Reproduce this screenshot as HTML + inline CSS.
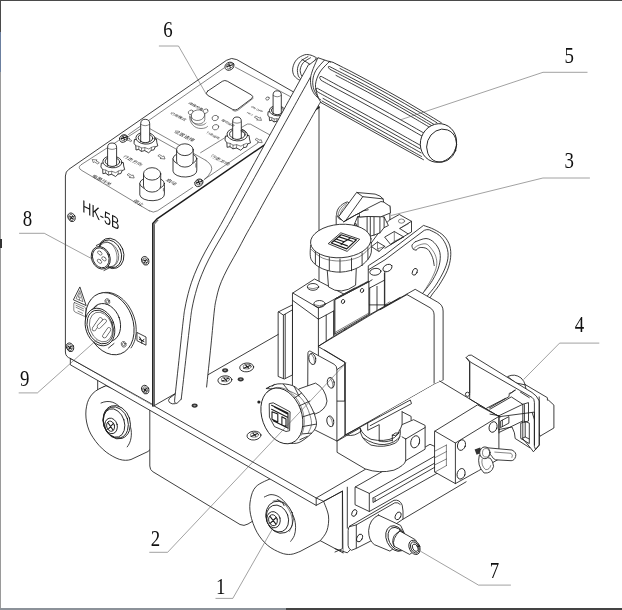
<!DOCTYPE html>
<html><head><meta charset="utf-8"><title>HK-5B</title>
<style>
html,body{margin:0;padding:0;background:#fff;overflow:hidden}
svg{display:block}
.l{fill:none;stroke:#1c1c1c;stroke-width:.85;stroke-linecap:round;stroke-linejoin:round}
.w{fill:#fff;stroke:#1c1c1c;stroke-width:.85;stroke-linecap:round;stroke-linejoin:round}
.f{fill:#fff;stroke:none}
.t{fill:none;stroke:#333;stroke-width:.6;stroke-linecap:round;stroke-linejoin:round}
.tw{fill:#fff;stroke:#333;stroke-width:.6;stroke-linecap:round;stroke-linejoin:round}
.ld{fill:none;stroke:#555;stroke-width:.55}
.num{font-family:"Liberation Serif",serif;font-size:23px;fill:#111}
text{filter:grayscale(1)}
.cj{font-family:"Liberation Sans","Noto Sans CJK SC",sans-serif;fill:#222}
</style></head><body>
<svg width="622" height="610" viewBox="0 0 622 610">
<rect width="622" height="610" fill="#fff"/>
<!-- 00_frame -->
<g shape-rendering="crispEdges">
<rect x="0" y="0" width="622" height="1.4" fill="#4a4a4a"/>
<rect x="0" y="0" width="1.2" height="608" fill="#9a9a9a"/>
<rect x="0" y="0" width="1.2" height="32" fill="#4a4a4a"/>
<rect x="0" y="32" width="1" height="40" fill="#6b7f9f"/>
<rect x="0" y="239" width="1.6" height="9" fill="#333"/>
<rect x="0" y="607.7" width="286" height="2.3" fill="#8c9299"/>
<rect x="286" y="607.7" width="336" height="2.3" fill="#444"/>
</g>
<!-- 20_base -->
<g class="l">
<!-- rear-left wheel support block + wheel -->
<path class="w" d="M97.7 380V390L105.6 385.9"/>
<g id="wheelL">
<path class="w" d="M105.6 385.9C100 388 96 390.5 93.1 393.1C89.5 397 87.3 401.5 86.6 406.2C85.5 411 85.6 417 86.6 422C87.6 427.5 89.8 433 93.1 437.7C96.5 443 101 448 106.2 452.1C110.5 455.3 115 457.8 119.3 459.3C123.5 460.6 127.5 460.6 131 459.5L148 451.5L160 440V409Z"/>
<path d="M101 403C105 401.2 109 401 112.8 402.3C118.5 404.5 123 409.5 125.9 415.4C128.5 420 130.4 425 131.1 429.8C131.6 433.5 131.4 437 130.5 440.3C129.8 442.8 128.7 445 127.2 446.9"/>
<ellipse class="w" cx="116.7" cy="422.2" rx="13.4" ry="17" transform="rotate(-18 116.7 422.2)"/>
<ellipse cx="115.8" cy="422.5" rx="12.2" ry="16" transform="rotate(-18 115.8 422.5)"/>
<ellipse cx="114.1" cy="423" rx="10.3" ry="14.6" transform="rotate(-18 114.1 423)"/>
<ellipse cx="111.1" cy="425.9" rx="6.2" ry="7.9" transform="rotate(-15 111.1 425.9)"/>
<ellipse cx="110.6" cy="426.2" rx="3.9" ry="5.2" transform="rotate(-15 110.6 426.2)"/>
<path d="M108 422.8L113 430M113.4 423.3L108 429.5" style="stroke-width:1.1"/>
</g>
<!-- lower body -->
<path class="f" d="M149.8 409.3V466Q149.8 470 153 471.8L240 524.5Q244 526.5 248 524L262 515V440Z"/>
<path d="M149.8 409.3V466Q149.8 470 153 471.8L240 524.5Q244 526.5 248 524L254 520.3"/>
</g>
<!-- 22_wheel1 -->
<g><path class="w" d="M316.2 505.4L342.5 491.1L343.3 553L320.3 540.7Z"/>
<path class="l" d="M343.3 553L349.8 549.7"/>
<path class="w" d="M272 478C269.4 479.4 259.8 482.8 256.2 486.4C252.6 490 251.4 494.9 250.5 499.5C249.6 504.1 249.4 508.8 250.5 514.3C251.6 519.8 254.1 527.1 257 532.3C259.9 537.5 263.7 542 267.7 545.4C271.7 548.8 277 551.3 280.8 552.8C284.6 554.3 287.5 554.6 290.7 554.4C293.9 554.2 298.4 552 300 551.5L320.3 540.7L320.3 540.7C321.4 539.1 325.5 534.9 326.9 530.8C328.3 526.7 329.1 520.9 328.5 516C327.9 511.1 324.4 503.8 323.6 501.3L316.2 498L280 470Z"/>
<path class="l" d="M264.4 497C265.5 496.6 268.5 494.6 271 494.6C273.4 494.6 276.4 495.3 279.2 497C281.9 498.8 284.9 501.8 287.4 505.2C289.8 508.7 292.6 513.9 293.9 517.5C295.3 521.2 295.5 524.4 295.6 527.4C295.6 530.4 295.1 533.3 294.3 535.6C293.4 537.9 291.3 540.4 290.7 541.3"/>
<ellipse class="w" cx="279.5" cy="517.2" rx="13.4" ry="16.4" transform="rotate(-20 279.5 517.2)"/>
<ellipse class="l" cx="277.5" cy="518.5" rx="10.8" ry="13.8" transform="rotate(-20 277.5 518.5)"/>
<path class="t" d="M273 501.1C274 501 277 499.6 279.2 500.3C281.3 501 283.8 502.9 285.7 505.2C287.7 507.6 289.9 511.1 291 514.3C292.1 517.4 292.6 521.2 292.3 524.1C292 527 289.8 530.2 289.3 531.5"/>
<ellipse class="w" cx="273.6" cy="519.7" rx="6.6" ry="8.2" transform="rotate(-15 273.6 519.7)"/>
<ellipse class="l" cx="273" cy="520.2" rx="4.3" ry="5.6" transform="rotate(-15 273 520.2)"/>
<path class="l" d="M270.2 516.7L275.9 524.1M276.2 517.5L270.2 523.3" style="stroke-width:1.1"/>
<path class="l" d="M277.5 499.5L280.8 502M282.5 502.8L284.1 505.7"/>
</g>
<!-- 23_plate -->
<g class="l">
<!-- plate top (big white) -->
<path class="f" d="M70.7 358.6L316.2 498L470 408L250 300Z"/>
<!-- plate front -->
<path class="w" d="M70.7 358.6L316.2 498V505.4L70.7 365Z"/>
<path d="M316.2 498L365.4 469.3M316.2 505.4L342.5 491.1"/>
</g>
<!-- 24_platescrews -->
<g><ellipse cx="225.1" cy="370.3" rx="3" ry="2.1" fill="#333"/><ellipse cx="225.1" cy="370.3" rx="1.3" ry=".8" fill="#999"/><ellipse cx="240.7" cy="379.3" rx="3" ry="2.1" fill="#333"/><ellipse cx="240.7" cy="379.3" rx="1.3" ry=".8" fill="#999"/><ellipse cx="194.6" cy="405.6" rx="3" ry="2.1" fill="#333"/><ellipse cx="194.6" cy="405.6" rx="1.3" ry=".8" fill="#999"/><ellipse class="w" cx="224.9" cy="380.2" rx="7" ry="4.4" transform="rotate(-5 224.9 380.2)"/>
<ellipse class="t" cx="225.4" cy="379.4" rx="4" ry="2.4" transform="rotate(-5 225.4 379.4)"/>
<path class="l" d="M221.9 381L228.4 378.2M223.9 378L226.7 380.8" style="stroke-width:1.1"/>
<ellipse class="w" cx="246.7" cy="367.4" rx="7" ry="4.4" transform="rotate(-5 246.7 367.4)"/>
<ellipse class="t" cx="247.2" cy="366.6" rx="4" ry="2.4" transform="rotate(-5 247.2 366.6)"/>
<path class="l" d="M243.7 368.2L250.2 365.4M245.7 365.2L248.5 368" style="stroke-width:1.1"/>
<ellipse class="w" cx="254" cy="435.6" rx="7" ry="4.4" transform="rotate(-5 254 435.6)"/>
<ellipse class="t" cx="254.5" cy="434.8" rx="4" ry="2.4" transform="rotate(-5 254.5 434.8)"/>
<path class="l" d="M251 436.4L257.5 433.6M253 433.4L255.8 436.2" style="stroke-width:1.1"/>
</g>
<!-- 25_box -->
<g><path class="f" d="M65.4 176Q65.4 171.5 69 169.2L226.5 60.3Q231 57.2 236.5 59.5L319 106.5V311L153.6 406L70.7 358.6Q65.4 357 65.4 352Z"/>
<path class="l" d="M70.7 358.6Q65.4 357 65.4 352V176Q65.4 171.5 69 169.2L226.5 60.3Q231.5 57 236.8 59.6L319 106.5"/>
<path class="l" d="M152.8 406V223.4L157.4 218.6L319 107.3" style="stroke-width:1.5"/>
<path class="l" d="M319 107V311L153.6 406"/>
<path class="l" d="M154.3 405V224.2L158 220.2"/>
<path class="l" d="M70.7 358.6L152.8 404.6"/>
</g>
<!-- 26_boxtop -->
<g><path class="t" d="M149.2 210.8L100 181.3L82 170.6Q77 167.8 81 164.8L118.5 140.6M128.5 134.5L224 68M235.5 67.3L291.8 97.4L300 102M149.2 210.8Q153.5 213.5 157.5 210.8L192.5 187.5M204.5 179.3L258 143"/>
<path class="t" d="M128.5 136.5L141 128.5Q145 126 149 128.2L175 142.8L206 160.5M154.5 137L176 149M206 160.5Q214 166 211 171.5Q209 176 204.5 179.3M200.6 152.7L244.9 125.4Q247.5 123.2 250.5 124.2L270 135"/>
<path class="w" d="M207.5 91.2L222.3 81.3Q224.8 79.8 227.3 81.2L251.5 95Q254 96.6 251.6 98.6L237.5 109.2Q235.2 110.8 232.6 109.4L207.6 95.3Q204.8 93.3 207.5 91.2Z"/>
<path class="t" d="M253.3 98.2L237.7 110.4Q235.3 112 232.8 110.5"/>
<ellipse class="w" cx="229.5" cy="66.2" rx="4.8" ry="3.8" transform="rotate(-30 229.5 66.2)"/>
<ellipse class="t" cx="229.8" cy="65.8" rx="3.5" ry="2.6" transform="rotate(-30 229.8 65.8)"/>
<path d="M227.3 66.4L231.9 65M228.9 64.4L230.3 67.2" class="l" style="stroke-width:1.3"/><ellipse class="w" cx="123.6" cy="138.4" rx="4.4" ry="3.5" transform="rotate(-30 123.6 138.4)"/>
<ellipse class="t" cx="123.9" cy="138" rx="3.2" ry="2.4" transform="rotate(-30 123.9 138)"/>
<path d="M121.4 138.6L126 137.2M123 136.6L124.4 139.4" class="l" style="stroke-width:1.3"/><ellipse class="w" cx="198.9" cy="182.7" rx="4.4" ry="3.5" transform="rotate(-30 198.9 182.7)"/>
<ellipse class="t" cx="199.2" cy="182.3" rx="3.2" ry="2.4" transform="rotate(-30 199.2 182.3)"/>
<path d="M196.7 182.9L201.3 181.5M198.3 180.9L199.7 183.7" class="l" style="stroke-width:1.3"/><ellipse class="t" cx="267.5" cy="98.5" rx="1.8" ry="1.5" transform="rotate(-30 267.5 98.5)"/>
<ellipse class="t" cx="135.5" cy="141" rx="1.4" ry="1.1" transform="rotate(-30 135.5 141)"/>
<ellipse class="tw" cx="215.2" cy="118" rx="3.2" ry="2.6" transform="rotate(-20 215.2 118)"/>
<ellipse class="tw" cx="215.6" cy="127.2" rx="3.2" ry="2.6" transform="rotate(-20 215.6 127.2)"/>
<ellipse class="tw" cx="190.8" cy="112.3" rx="2.6" ry="2.1" transform="rotate(-30 190.8 112.3)"/>
<ellipse class="tw" cx="205.5" cy="111.2" rx="2.6" ry="2.1" transform="rotate(-30 205.5 111.2)"/>
<path class="t" d="M189.5 116C189.5 123 194 128.5 201 128.5C204.5 128.5 206.5 127.5 207.5 126.5"/>
<path class="t" d="M190.5 117C191 122 195 125.3 200 125.3C203 125.3 205 124.3 206 123"/>
<ellipse class="tw" cx="198" cy="115.2" rx="6.8" ry="5.3" transform="rotate(-10 198 115.2)"/>
<path class="t" d="M191.3 115.5V119.2C191.8 122.5 195 124 198.3 124C202 124 204.6 122 204.8 119.5V115.5"/>
<path class="w" d="M268.1 112.1L267.8 115.1L269.3 117.2L269.5 120.7L271.7 120.2L274 121.9L276.8 121.2L280.1 123.1L282.2 121L284.6 120.5L285.6 118L287.8 117.2L287 114.2L286.7 111.7Z"/>
<path class="t" d="M269.3 117.2L271.9 117.7L274.2 119L276.9 118.7L280.2 119.9L282.4 118.5L284.7 117.7L285.6 118"/>
<path class="t" d="M271.9 117.7L271.7 120.2M276.9 118.7L276.8 121.2M282.4 118.5L282.2 121M274.2 119L274 121.9"/>
<ellipse class="w" cx="277.5" cy="110.8" rx="8.1" ry="5" transform="rotate(4 277.5 110.8)"/>
<ellipse class="l" cx="277.5" cy="110.5" rx="6.1" ry="3.7" transform="rotate(4 277.5 110.5)"/>
<path class="w" d="M273.1 113.3V94.9Q273.1 90.8 277.2 90.8Q281.3 90.8 281.3 94.9V113.3Q277.2 116.3 273.1 113.3Z"/>
<path class="t" d="M273.1 95.4Q277.2 98.4 281.3 95.4"/>
<path class="w" d="M225.4 136.4L225 140.1L226.9 142.8L227.1 147.3L230 146.7L232.9 148.8L236.5 148L240.8 150.3L243.4 147.7L246.5 147.1L247.7 143.9L250.5 142.9L249.5 139L249.1 135.8Z"/>
<path class="t" d="M226.9 142.8L230.2 143.4L233.1 145.2L236.7 144.7L240.9 146.2L243.7 144.5L246.6 143.4L247.7 143.9"/>
<path class="t" d="M230.2 143.4L230 146.7M236.7 144.7L236.5 148M243.7 144.5L243.4 147.7M233.1 145.2L232.9 148.8"/>
<ellipse class="w" cx="237.3" cy="134.6" rx="10.3" ry="6.3" transform="rotate(4 237.3 134.6)"/>
<ellipse class="l" cx="237.3" cy="134.3" rx="7.8" ry="4.7" transform="rotate(4 237.3 134.3)"/>
<path class="w" d="M232.7 138V121.3Q232.7 117 237 117Q241.3 117 241.3 121.3V138Q237 141 232.7 138Z"/>
<path class="t" d="M232.7 121.8Q237 124.8 241.3 121.8"/>
<path class="w" d="M134.4 139.8L134 143.3L135.8 145.8L136 150L138.7 149.4L141.4 151.4L144.7 150.6L148.7 152.8L151.2 150.4L154 149.8L155.2 146.8L157.8 145.9L156.8 142.3L156.5 139.3Z"/>
<path class="t" d="M135.8 145.8L138.9 146.4L141.6 148L144.9 147.6L148.8 149L151.4 147.4L154.1 146.4L155.2 146.8"/>
<path class="t" d="M138.9 146.4L138.7 149.4M144.9 147.6L144.7 150.6M151.4 147.4L151.2 150.4M141.6 148L141.4 151.4"/>
<ellipse class="w" cx="145.5" cy="138.2" rx="9.6" ry="5.9" transform="rotate(4 145.5 138.2)"/>
<ellipse class="l" cx="145.5" cy="137.9" rx="7.3" ry="4.4" transform="rotate(4 145.5 137.9)"/>
<path class="w" d="M140.7 141.3V123.8Q140.7 119.3 145.2 119.3Q149.7 119.3 149.7 123.8V141.3Q145.2 144.3 140.7 141.3Z"/>
<path class="t" d="M140.7 124.3Q145.2 127.3 149.7 124.3"/>
<path class="w" d="M101.3 163.5L100.9 167L102.7 169.5L102.9 173.7L105.6 173.1L108.3 175.1L111.6 174.3L115.6 176.5L118.1 174.1L120.9 173.5L122.1 170.5L124.7 169.6L123.7 166L123.4 163Z"/>
<path class="t" d="M102.7 169.5L105.8 170.1L108.5 171.7L111.8 171.3L115.7 172.7L118.3 171.1L121 170.1L122.1 170.5"/>
<path class="t" d="M105.8 170.1L105.6 173.1M111.8 171.3L111.6 174.3M118.3 171.1L118.1 174.1M108.5 171.7L108.3 175.1"/>
<ellipse class="w" cx="112.4" cy="161.9" rx="9.6" ry="5.9" transform="rotate(4 112.4 161.9)"/>
<ellipse class="l" cx="112.4" cy="161.6" rx="7.3" ry="4.4" transform="rotate(4 112.4 161.6)"/>
<path class="w" d="M107.6 165V147.5Q107.6 143 112.1 143Q116.6 143 116.6 147.5V165Q112.1 168 107.6 165Z"/>
<path class="t" d="M107.6 148Q112.1 151 116.6 148"/>
<path class="w" d="M173 158.7V171.2A11.9 6.3 0 0 0 196.8 170.2V158.7"/>
<ellipse class="w" cx="184.9" cy="158.7" rx="11.9" ry="6.3"/>
<path class="w" d="M176.6 149.7V161.2A8.3 5.9 0 0 0 193.2 161.2V149.7"/>
<ellipse class="w" cx="184.9" cy="149.7" rx="8.3" ry="5.9"/>
<path class="t" d="M195.8 163.7V167.2"/>
<path class="w" d="M139.8 183.4V194.9A12.3 6.3 0 0 0 164.4 193.9V183.4"/>
<ellipse class="w" cx="152.1" cy="183.4" rx="12.3" ry="6.3"/>
<path class="w" d="M143.5 173.9V185.9A8.6 6.2 0 0 0 160.7 185.9V173.9"/>
<ellipse class="w" cx="152.1" cy="173.9" rx="8.6" ry="6.2"/>
<path class="t" d="M163.4 188.4V190.9"/>
<path class="t" d="M159.8 154.8L162.8 156.6L163.9 155.9L165 159L160.1 158.5L161.2 157.8L158.2 156Z"/>
<path class="t" d="M131.6 140.5L129.2 139L130 138.4L126.1 138.1L127 140.6L127.8 140L130.3 141.4Z"/>
<path class="t" d="M129 173.8L132 175.6L133.1 174.9L134.2 178L129.3 177.5L130.4 176.8L127.4 175Z"/>
<path class="t" d="M99 162.5L96 160.7L97.1 160L92.2 159.5L93.3 162.6L94.4 161.9L97.4 163.7Z"/>
<path class="t" d="M256.3 116.2L259.3 118L260.4 117.3L261.5 120.4L256.6 119.9L257.7 119.2L254.7 117.4Z"/>
<path class="t" d="M257 138.5L260 140.3L261.1 139.6L262.2 142.7L257.3 142.2L258.4 141.5L255.4 139.7Z"/>
<path class="t" d="M245.7 132.3L243.6 131.1L244.3 130.6L240.9 130.3L241.7 132.4L242.4 131.9L244.5 133.2Z"/>
<text class="cj" font-size="5.2" transform="matrix(0.88 0.45 -0.62 0.55 91.5 176.5)">电源开关</text>
<text class="cj" font-size="5.2" transform="matrix(0.88 0.45 -0.62 0.55 122.5 157)">行走方向</text>
<text class="cj" font-size="5.5" transform="matrix(0.88 0.45 -0.62 0.55 132.5 201.5)">停止</text>
<text class="cj" font-size="5.5" transform="matrix(0.88 0.45 -0.62 0.55 165.5 180.5)">启动</text>
<text class="cj" font-size="5.5" transform="matrix(0.88 0.45 -0.62 0.55 173.5 132)">设置选择</text>
<text class="cj" font-size="4.3" transform="matrix(0.88 0.45 -0.62 0.55 169.8 113.5)">记录模式</text>
<text class="cj" font-size="4.1" transform="matrix(0.88 0.45 -0.62 0.55 187.8 103.5)">焊接参数</text>
<text class="cj" font-size="5.2" transform="matrix(0.88 0.45 -0.62 0.55 210 156.5)">行走方向</text>
<text class="cj" font-size="3.6" transform="matrix(0.88 0.45 -0.62 0.55 221 120.5)">摆动设定</text>
<text class="cj" font-size="3.6" transform="matrix(0.88 0.45 -0.62 0.55 206 133)">行走设定</text>
<text class="cj" font-size="3.4" transform="matrix(0.88 0.45 -0.62 0.55 250.5 107)">ON OFF</text>
<text class="cj" font-size="3.1" transform="matrix(0.88 0.45 -0.62 0.55 246.5 113)">REC</text>
</g>
<!-- 27_boxfront -->
<g><g opacity=".99"><text transform="matrix(0.72 0.36 0 1 82.3 211.8)" font-family="Liberation Sans,sans-serif" font-size="17.5" fill="#111">HK-5B</text></g><ellipse class="w" cx="71.6" cy="217.3" rx="3.5" ry="4.5" transform="rotate(-25 71.6 217.3)"/>
<ellipse class="t" cx="71.3" cy="217.5" rx="2.4" ry="3.2" transform="rotate(-25 71.3 217.5)"/>
<path d="M70 216.5L72.8 218.9M70.4 219.1L72.4 216.3" class="l" style="stroke-width:1.2"/><ellipse class="w" cx="145.3" cy="260.8" rx="3.5" ry="4.5" transform="rotate(-25 145.3 260.8)"/>
<ellipse class="t" cx="145" cy="261" rx="2.4" ry="3.2" transform="rotate(-25 145 261)"/>
<path d="M143.7 260L146.5 262.4M144.1 262.6L146.1 259.8" class="l" style="stroke-width:1.2"/><ellipse class="w" cx="70.1" cy="347.3" rx="3.5" ry="4.5" transform="rotate(-25 70.1 347.3)"/>
<ellipse class="t" cx="69.8" cy="347.5" rx="2.4" ry="3.2" transform="rotate(-25 69.8 347.5)"/>
<path d="M68.5 346.5L71.3 348.9M68.9 349.1L70.9 346.3" class="l" style="stroke-width:1.2"/><ellipse class="w" cx="145.3" cy="389.6" rx="3.5" ry="4.5" transform="rotate(-25 145.3 389.6)"/>
<ellipse class="t" cx="145" cy="389.8" rx="2.4" ry="3.2" transform="rotate(-25 145 389.8)"/>
<path d="M143.7 388.8L146.5 391.2M144.1 391.4L146.1 388.6" class="l" style="stroke-width:1.2"/><ellipse class="w" cx="111.2" cy="253.4" rx="12.3" ry="15.6" transform="rotate(-22 111.2 253.4)"/>
<ellipse class="l" cx="110.2" cy="253.8" rx="11" ry="14.3" transform="rotate(-22 110.2 253.8)"/>
<ellipse class="t" cx="108.6" cy="254.5" rx="9.8" ry="12.6" transform="rotate(-22 108.6 254.5)"/>
<path class="l" d="M96.3 245.5L103 242.2M104 270.5L111 267"/>
<path class="t" d="M103 242.2C110 240 116 247 117 256C117.5 262 115 266 111 267"/>
<ellipse class="w" cx="100.8" cy="257.8" rx="9.2" ry="11.6" transform="rotate(-22 100.8 257.8)"/>
<ellipse class="l" cx="100.8" cy="257.8" rx="8" ry="10.3" transform="rotate(-22 100.8 257.8)"/>
<ellipse class="t" cx="99.8" cy="253" rx="1.6" ry="2.6" transform="rotate(-50 99.8 253)"/>
<ellipse class="t" cx="104" cy="258.8" rx="1.6" ry="2.6" transform="rotate(-50 104 258.8)"/>
<ellipse class="t" cx="99.5" cy="261.3" rx="1.6" ry="2.6" transform="rotate(-50 99.5 261.3)"/>
<path class="l" d="M98.9 294.2C99.4 294 100.9 293.3 101.9 293C102.9 292.7 104 292.5 105.1 292.4C106.2 292.3 107.3 292.3 108.5 292.4C109.6 292.5 110.7 292.7 111.9 293.1C113 293.4 114.1 293.8 115.3 294.3C116.4 294.8 117.5 295.4 118.6 296.1C119.7 296.8 120.8 297.6 121.8 298.4C122.8 299.3 123.8 300.2 124.8 301.3C125.8 302.3 126.7 303.4 127.6 304.5C128.4 305.7 129.2 306.9 130 308.2C130.8 309.4 131.5 310.8 132.1 312.1C132.7 313.5 133.3 314.9 133.8 316.3C134.3 317.7 134.7 319.2 135.1 320.6C135.4 322.1 135.7 323.5 135.9 325C136.1 326.4 136.2 327.9 136.2 329.3C136.3 330.8 136.2 332.2 136.1 333.6C136 335 135.8 336.3 135.5 337.6C135.2 338.9 134.9 340.2 134.4 341.4C134 342.6 133.5 343.8 132.9 344.8C132.4 345.9 131.3 347.4 131 347.9"/>
<ellipse class="w" cx="109.8" cy="323.7" rx="23.2" ry="32" transform="rotate(-20 109.8 323.7)"/>
<ellipse class="t" cx="107.4" cy="301.5" rx="2.4" ry="3" transform="rotate(-20 107.4 301.5)"/>
<ellipse class="t" cx="123.7" cy="344.3" rx="2.4" ry="3" transform="rotate(-20 123.7 344.3)"/>
<ellipse class="t" cx="107.4" cy="301.5" rx="1.3" ry="1.8" transform="rotate(-20 107.4 301.5)"/>
<ellipse class="t" cx="123.7" cy="344.3" rx="1.3" ry="1.8" transform="rotate(-20 123.7 344.3)"/>
<ellipse class="l" cx="105.5" cy="322.5" rx="14.5" ry="19.5" transform="rotate(-20 105.5 322.5)"/>
<path class="l" d="M91.5 310L97 305.6M108.5 348L114 343.5"/>
<ellipse class="w" cx="100" cy="327" rx="14.2" ry="19.3" transform="rotate(-20 100 327)"/>
<ellipse class="l" cx="100.2" cy="327" rx="12.6" ry="17.4" transform="rotate(-20 100.2 327)"/>
<ellipse class="t" cx="101" cy="327" rx="11" ry="15.3" transform="rotate(-20 101 327)"/>
<path d="M94 329L100.5 319.5" fill="none" stroke="#333" stroke-width="4.4" stroke-linecap="round"/><path d="M94 329L100.5 319.5" fill="none" stroke="#fff" stroke-width="3.2" stroke-linecap="round"/><path d="M99 326.5L104.5 321" fill="none" stroke="#333" stroke-width="4.4" stroke-linecap="round"/><path d="M99 326.5L104.5 321" fill="none" stroke="#fff" stroke-width="3.2" stroke-linecap="round"/><path d="M104.5 336L109 329.5" fill="none" stroke="#333" stroke-width="4.4" stroke-linecap="round"/><path d="M104.5 336L109 329.5" fill="none" stroke="#fff" stroke-width="3.2" stroke-linecap="round"/><path class="l" d="M79.7 287.3L73.4 299.8L85.8 305.4Z"/>
<path class="t" d="M79.6 291L76 298.6L82.6 301.5Z"/>
<path class="t" d="M79.5 293.5L78.3 297.3L80.3 297L79.3 300"/>
<path class="t" d="M74.5 302.6L84.5 307Q85.8 307.8 85.8 309V315.5Q85.6 316.8 84.2 316.2L75 312Q73.8 311.3 73.8 310V303.5Q73.9 302.3 74.5 302.6Z"/>
<path class="t" d="M76 305.3L83.5 308.8M76 307.3L83.5 310.8M78 311.2L82.6 313.3"/>
<path class="l" d="M137.3 332.6L146 337V345.2L137.3 340.8Z"/>
<path class="l" d="M139.5 337L141.8 341L144 339.5M141.8 341V343.2M139.3 339.2L144 341.6" style="stroke-width:1"/>
</g>
<!-- 30_handle -->
<g><path class="w" d="M316 57.5C315.2 57.1 312.9 55.7 311 55.2C309.1 54.8 307.1 54.1 304.7 54.8C302.3 55.5 298.8 57.3 296.8 59.4C294.8 61.5 293.4 64.8 292.9 67.3C292.3 69.8 292.7 72.5 293.5 74.5C294.3 76.5 296.4 78 297.6 79C298.9 80 300.4 80.2 301 80.5L312 66Z"/>
<path class="l" d="M308 56.6C306.8 57.4 302.4 59.4 300.7 61.4C298.9 63.4 297.9 66.2 297.5 68.6C297.1 71 297.8 74.1 298.3 75.8C298.8 77.5 300.1 78 300.5 78.5"/>
<path class="l" d="M310.5 57.8C309.3 58.6 305.2 60.5 303.5 62.4C301.8 64.3 300.7 67 300.3 69C299.9 71 300.6 73.2 301 74.5C301.4 75.8 302.5 76.6 302.8 77"/>
<path class="l" d="M302 59.4L310.5 64.6"/>
<path class="f" d="M308.5 64.7C304.8 71.5 292.9 93 286 105.6C279.1 118.1 273 129.3 267.1 140C261.2 150.7 256.1 160 250.6 170C245.1 180 238.6 191.7 234.1 200C229.6 208.3 226.7 213.8 223.3 220C219.9 226.2 216.6 231.8 213.6 237C210.6 242.2 208.2 246.1 205.5 251.1C202.8 256.1 199.9 261.8 197.6 267C195.3 272.2 193.2 277.3 191.5 282.3C189.8 287.3 188.4 292.6 187.3 297C186.2 301.4 185.5 305.2 184.8 309C184.1 312.8 184.2 312.3 183.3 320C182.4 327.7 180.9 341.6 179.5 355C178.1 368.4 175.4 392.7 174.6 400.2L176 403.6L181.1 399.3L206.6 387C207.3 380 209.7 357.8 211 345C212.3 332.2 213.5 317.7 214.4 310C215.3 302.3 215.5 302.5 216.3 298.7C217.1 294.9 218 290.8 219.3 287C220.6 283.2 222.2 279.5 224 275.7C225.8 271.9 227.8 268.1 230 264C232.2 259.9 234.8 255.8 237.3 251.1C239.9 246.4 242.5 241.2 245.3 236C248.1 230.8 251 226 254.3 220C257.6 214 260.6 208.3 265.2 200C269.8 191.7 276.5 180 282.1 170C287.7 160 293.2 150.3 299 140C304.8 129.7 313.1 114.8 316.9 108.2C320.6 101.7 320.7 102 321.5 100.7L317.8 58.1Z"/>
<path class="l" d="M308.5 64.7C304.8 71.5 292.9 93 286 105.6C279.1 118.1 273 129.3 267.1 140C261.2 150.7 256.1 160 250.6 170C245.1 180 238.6 191.7 234.1 200C229.6 208.3 226.7 213.8 223.3 220C219.9 226.2 216.6 231.8 213.6 237C210.6 242.2 208.2 246.1 205.5 251.1C202.8 256.1 199.9 261.8 197.6 267C195.3 272.2 193.2 277.3 191.5 282.3C189.8 287.3 188.4 292.6 187.3 297C186.2 301.4 185.5 305.2 184.8 309C184.1 312.8 184.2 312.3 183.3 320C182.4 327.7 180.9 341.6 179.5 355C178.1 368.4 175.4 392.7 174.6 400.2Q174.3 404 177 403.3L181.1 399.3"/>
<path class="l" d="M321.5 100.7C320.7 102 320.6 101.7 316.9 108.2C313.1 114.8 304.8 129.7 299 140C293.2 150.3 287.7 160 282.1 170C276.5 180 269.8 191.7 265.2 200C260.6 208.3 257.6 214 254.3 220C251 226 248.1 230.8 245.3 236C242.5 241.2 239.9 246.4 237.3 251.1C234.8 255.8 232.2 259.9 230 264C227.8 268.1 225.8 271.9 224 275.7C222.2 279.5 220.6 283.2 219.3 287C218 290.8 217.1 294.9 216.3 298.7C215.5 302.5 215.3 302.3 214.4 310C213.5 317.7 212.3 332.2 211 345C209.7 357.8 207.3 380 206.6 387M317.8 58.1L309.3 64.7"/>
<path class="l" d="M310.5 77.1C307.8 81.8 300.4 95.1 294.6 105.6C288.8 116.1 281.4 129.3 275.5 140C269.5 150.7 264.3 160 258.7 170C253.2 180 246.6 191.7 242 200C237.4 208.3 234.5 213.8 231.1 220C227.6 226.2 224.3 231.8 221.3 237C218.3 242.2 215.8 246.1 213.1 251.1C210.4 256.1 207.4 261.8 205 267C202.7 272.2 200.6 277.3 198.8 282.3C197.1 287.3 195.7 292.6 194.5 297C193.4 301.4 192.6 305.2 191.9 309C191.3 312.8 191.3 312.3 190.4 320C189.4 327.7 187.8 341.8 186.3 355C184.8 368.2 182.1 391.9 181.2 399.3"/>
<path class="l" d="M174.6 394.4L169.5 398.2Q167.5 400.5 169.5 402.5Q172 404.5 175 403.8"/>
</g>
<!-- 35_grip -->
<g><path class="w" d="M317.8 58.1C317 59.9 314.4 65.3 313.2 68.6C312 71.9 310.9 74.7 310.6 77.8C310.3 80.9 310.6 84.3 311.2 87C311.8 89.7 313.1 92.2 314.5 94.2C315.9 96.2 318.6 98.2 319.4 99L330 104L340 66L328.9 61.5Z"/>
<path class="f" d="M331 61.4C334.1 62.9 343.3 67.5 349.4 70.7C355.5 73.8 361.7 77.1 367.8 80.3C373.9 83.6 380.1 87 386.2 90.4C392.3 93.8 398.5 97.3 404.6 100.8C410.7 104.4 416.9 108 423 111.7C429.1 115.3 438.3 121 441.4 122.8L447.3 127.6L450 132L423 159.6L320 102.3Z"/>
<path class="l" d="M324.3 60.3C322.9 62 317.7 67.2 315.8 70.6C313.9 73.9 313.1 77.2 312.8 80.4C312.5 83.6 313 86.8 313.9 89.6C314.8 92.4 317.3 95.8 318 97"/>
<path class="l" d="M329.5 61.5C327.9 63.2 322.3 68.2 320 72C317.7 75.8 315.9 80.4 315.5 84.3C315.1 88.2 316.6 92.5 317.5 95.5C318.4 98.5 320.4 101.3 321 102.5"/>
<path class="l" d="M329 61.3L333 62.3C336 63.9 345 68.4 351.1 71.5C357.1 74.6 363.1 77.8 369.1 81.1C375.2 84.3 381.2 87.6 387.2 91C393.2 94.3 399.2 97.7 405.3 101.2C411.3 104.7 417.3 108.3 423.3 111.9C429.4 115.5 438.4 121 441.4 122.8M320.5 102.3L423.5 159.7"/>
<path class="l" d="M340 68.5C342.7 69.9 350.8 74 356.2 76.8C361.6 79.7 366.9 82.6 372.3 85.5C377.7 88.4 383.1 91.4 388.5 94.4C393.9 97.4 399.3 100.5 404.7 103.6C410.1 106.7 415.4 109.8 420.8 113C426.2 116.2 434.3 121.1 437 122.8M434 124.4C431.1 122.6 422.4 117.4 416.6 114C410.8 110.6 405 107.3 399.2 104C393.4 100.7 387.6 97.4 381.9 94.2C376.1 91 370.3 87.8 364.5 84.7C358.7 81.6 352.9 78.6 347.1 75.6C341.3 72.6 332.6 68.1 329.7 66.6Q326.7 65.8 329.7 69.2L329.7 69.2C332.6 70.7 341.3 75.2 347.1 78.2C352.9 81.3 358.7 84.3 364.5 87.4C370.3 90.5 376.1 93.7 381.9 96.9C387.6 100.1 393.4 103.4 399.2 106.6C405 109.9 410.8 113.3 416.6 116.7C422.4 120.1 431.1 125.3 434 127M424 133.1C421.1 131.5 412.6 126.5 406.9 123.3C401.2 120 395.4 116.8 389.7 113.6C384 110.4 378.3 107.3 372.6 104.1C366.9 101 361.2 97.9 355.5 94.8C349.8 91.7 344 88.8 338.3 85.7C332.6 82.6 324.1 77.9 321.2 76.4Q318.2 76.3 321.2 80.4L321.2 80.4C324.1 82 332.6 86.7 338.3 89.7C344 92.8 349.8 95.8 355.5 98.9C361.2 102 366.9 105.1 372.6 108.3C378.3 111.4 384 114.6 389.7 117.8C395.4 120.9 401.2 124.2 406.9 127.4C412.6 130.7 421.1 135.6 424 137.2M420 145.1C417.1 143.5 408.6 138.7 402.9 135.5C397.2 132.3 391.5 129.1 385.8 125.9C380.1 122.7 374.4 119.6 368.7 116.4C363 113.3 357.3 110.2 351.6 107C345.9 103.9 340.2 100.9 334.5 97.7C328.8 94.6 320.2 89.9 317.4 88.3Q314.4 87.9 317.4 91.8L317.4 91.8C320.2 93.4 328.8 98.1 334.5 101.3C340.2 104.4 345.9 107.5 351.6 110.6C357.3 113.8 363 116.9 368.7 120C374.4 123.2 380.1 126.4 385.8 129.5C391.5 132.7 397.2 135.9 402.9 139.1C408.6 142.3 417.1 147.1 420 148.7M336 75.4C338.6 76.8 346.6 80.9 351.8 83.7C357.1 86.5 362.4 89.3 367.7 92.1C372.9 95 378.2 97.9 383.5 100.8C388.8 103.7 394.1 106.7 399.3 109.7C404.6 112.7 409.9 115.7 415.2 118.8C420.4 121.9 428.4 126.6 431 128.1M323 98.4C325.7 99.9 333.9 104.4 339.3 107.4C344.8 110.4 350.2 113.4 355.7 116.4C361.1 119.5 366.6 122.5 372 125.5C377.4 128.5 382.9 131.5 388.3 134.6C393.8 137.6 399.2 140.7 404.7 143.7C410.1 146.7 418.3 151.3 421 152.9M322 101C324.8 102.6 333.1 107.2 338.6 110.3C344.1 113.3 349.6 116.4 355.2 119.4C360.7 122.5 366.2 125.6 371.8 128.7C377.3 131.7 382.8 134.8 388.3 137.9C393.9 141 399.4 144.1 404.9 147.1C410.4 150.2 418.7 154.9 421.5 156.4"/>
<ellipse class="w" cx="438.5" cy="143" rx="18" ry="19.5" transform="rotate(20 438.5 143)"/>
<ellipse class="l" cx="441.7" cy="145.7" rx="14.8" ry="16.8" transform="rotate(20 441.7 145.7)"/>
</g>
<!-- 40_mech_top -->
<g><path class="f" d="M384.9 224.3L399.7 214.8L411.5 221.8L411.5 230.8L421.8 236.6L379.2 262L369.3 257L369.3 245.6Z"/>
<path class="l" d="M369.3 245.6L384.9 224.3L389.9 219.7L399.3 214.5L411.5 221.3L411.5 232L408.1 233.9L399.7 228.5L411.5 221.3M408.1 233.9L385 248.2M369.3 245.6L369.3 257"/>
<ellipse class="t" cx="401.5" cy="221.1" rx="3.1" ry="2.1"/>
<path class="l" d="M389.9 219.7L389.9 205.9"/>
<path class="l" d="M385 236.9L394.3 231.5L403.7 236.9L390.9 244.2Z"/>
<path class="t" d="M394.3 231.5L394.3 241.3L390.9 244.2M394.3 241.3L403.7 236.9"/>
<path class="l" d="M371.8 246.4L377.5 242L384.9 246.4L379.2 251.3Z"/>
<path class="t" d="M377.5 242L377.5 248.9L379.2 251.3M377.5 248.9L384.9 246.4"/>
<path class="t" d="M399.7 228.5L408.6 223.6"/>
<path class="w" d="M346.9 202C340.5 204.2 336.2 209.5 336.7 214.8L338.9 218.6L344.7 221.2L354.3 206.3Z"/>
<path class="t" d="M346.9 203.3C342.1 205.8 338.3 210 338.3 215.4L339.6 217.8M347.1 204.7C343.7 206.8 340.5 210.6 340 215.4"/>
<path class="l" d="M336.2 215.9L336.2 226"/>
<path class="w" d="M357.5 217L354.3 224.4L358 226.8L358 235.1L367.1 235.1L370.3 236.1L374 235.1L379.9 232.9L384.1 227.6L388.4 225.5L384.1 217L379.9 216.4Z"/>
<path class="l" d="M357.5 217L367.1 216.4L370.3 214.8L374 216.4L379.9 216.4M358 217L358 226.8M367.1 216.4L367.1 235.1M370.3 214.8L370.3 236.1M374 216.4L374 235.1M379.9 216.4L379.9 232.9M384.1 217L384.1 227.6M354.3 224.4L355.9 223.4L356.7 225.5"/>
<path class="w" d="M357 192.5L375.1 194.1Q380.9 195.7 383.1 198.9L383.6 202L390 206.3L390.5 212.9L380.9 216.8L368.2 216.5L359.6 217L359.1 213.2L354.8 215.4L345.8 220.7L343.7 221.8L338.9 217Z"/>
<path class="l" d="M357 192.5L362.8 196.7L383.1 198.9M362.8 196.7L345.8 220.4M345.8 220.4L354.8 215.4L359.1 213.2L368.2 207.9L380.9 201.5L383.6 202M359.1 213.2Q363.4 210 368.2 209.7M343.7 221.8L345.8 220.4"/>
<path class="w" d="M368.6 265.6L385 254.9L423.5 225.4L423.5 225.4C425.3 226.1 430.8 227.7 434.2 229.5C437.6 231.3 441.4 233.3 444 236.1C446.6 238.8 448.7 242.3 449.8 245.9C450.8 249.5 451 253.3 450.6 257.4C450.2 261.5 449.2 265.8 447.3 270.5C445.4 275.1 441.7 281.1 439.1 285.2C436.5 289.3 433.9 291.8 431.7 295.1C429.5 298.4 426.9 303.3 426 304.9L368.6 304.9Z"/>
<path class="l" d="M368.6 269.7L385 259.8L424.3 230.3Q426.8 229.2 429.3 229.8L429.3 229.8C430.9 230.7 436.4 232.8 439.1 235.2C441.8 237.7 444.2 240.8 445.7 244.3C447.2 247.7 448.3 251.6 448.1 255.7C448 259.8 446.9 263.9 444.8 268.9C442.8 273.8 438.8 280.6 435.8 285.2C432.8 289.9 429.1 293.4 426.8 296.7C424.5 300 422.7 303.6 421.9 304.9"/>
<path class="l" d="M415.3 241.8C417.1 241.3 422.8 238.4 426 238.5C429.1 238.7 431.9 240.3 434.2 242.6C436.5 244.9 439.1 248.6 439.9 252.5C440.7 256.3 440.3 260.9 439.1 265.6C437.9 270.2 435.4 275.5 432.5 280.3C429.7 285.1 423.7 291.9 421.9 294.3"/>
<path class="l" d="M415.3 241.8C414.8 242.3 412.4 243.9 412 245.1C411.7 246.3 412.5 248.4 413.2 249.2C413.9 250 415.7 249.9 416.1 250"/>
<path class="l" d="M416.1 250C416.8 249.6 418.3 247.7 420.2 247.5C422.2 247.4 425.6 247.5 427.6 249.2C429.7 250.8 431.4 254.6 432.5 257.4C433.6 260.1 433.9 264.2 434.2 265.6"/>
<path class="t" d="M413.2 249.2C414 248.6 415.7 246.4 417.8 245.6C419.9 244.7 423.7 243.3 426 243.9C428.3 244.5 430.1 247.1 431.7 249.2C433.4 251.3 435 253.8 435.8 256.6C436.6 259.3 437.2 262.2 436.6 265.6C436.1 269 434.6 272.8 432.5 277C430.5 281.3 425.7 288.7 424.3 291"/>
<ellipse class="l" cx="414.8" cy="271.8" rx="2.3" ry="3.6" transform="rotate(25 414.8 271.8)"/>
<ellipse class="l" cx="387.5" cy="268" rx="4.9" ry="3.3" transform="rotate(-30 387.5 268)"/>
<ellipse class="w" cx="375.4" cy="271.8" rx="5.6" ry="3.4" transform="rotate(-8 375.4 271.8)"/>
<path class="l" d="M384.8 271L384.8 305.6"/>
</g>
<!-- 42_column -->
<g><path class="w" d="M278.5 311.8L292.5 304.9L292.5 374.9L284.3 379L278.5 376.6Z"/>
<path class="l" d="M278.5 311.8L283.4 315.1L283.4 378.5M283.4 315.1L292.5 309.8M285.2 314.3L285.2 378.2"/>
<path class="w" d="M292.8 293L314.6 279L344.9 294.6L344.9 401.1L292.8 401.1Z"/>
<path class="l" d="M292.8 293L318.4 308L354.8 288M292.8 300.5L318.4 319.2M318.4 308L318.4 401.1"/>
<path class="l" d="M318.4 319.2L333.6 311M326.2 315.1L326.2 340.5M333.6 311L333.6 335.6"/>
<ellipse class="l" cx="313" cy="286.9" rx="5.7" ry="3.4"/>
<ellipse class="l" cx="319.5" cy="303.9" rx="5.7" ry="3.4"/>
<path class="t" d="M307.5 287.7Q313 290 318.4 287.4M314.1 304.8Q319.5 307 324.9 304.4"/>
<path class="w" d="M335.2 299.5L368.9 281.8L368.9 314.3L335.2 333.9Z"/>
<path class="t" d="M333.9 300.5L333.9 334.6L335.2 333.9M334.6 300.2L334.6 334.3M335.2 332.3L368.9 313"/>
<path class="t" stroke-dasharray=".5 .9" style="stroke-width:1.6" d="M335.6 298.9L368.5 281.5"/><ellipse class="l" cx="343" cy="301.5" rx="1.6" ry="2.1" transform="rotate(20 343 301.5)"/>
<ellipse class="l" cx="362" cy="290.5" rx="1.6" ry="2.1" transform="rotate(20 362 290.5)"/>
<path class="l" d="M369.7 288L369.7 313.9M377 286.4L377 310.2M384.4 273.3L384.4 306.1M369.7 288L384.4 280.2M368.9 281.8L372.1 279.8"/>
<path class="t" d="M384.4 305.2L389.3 302L391.8 302.8L400 298.2"/>
</g>
<!-- 44_motor -->
<g><path class="w" d="M318.4 346.2L380 309.3L415.2 289.3L437.4 302Q443.1 305 443.1 311V380.3L434.1 384.4L345.1 435.2V363Z"/>
<path class="l" d="M407 294.6L430 307.7Q434.1 310.2 434.1 315.1L434.1 383.1"/>
<path class="l" d="M407 294.6L380 309.8"/>
<path class="w" d="M307.9 353.6Q307.9 350.3 310.5 351.3L334.4 364.4Q336.9 366.1 336.9 369.7L336.9 441L315.6 430.3L307.9 426.2Z"/>
<path class="l" d="M324.6 350L345.1 362.3L345.1 435.2L336.9 441M336.9 369.7L345.1 363.9"/>
<path class="l" d="M318.4 346.2L333.6 336.4L368.9 315.1L400 297.5"/>
<ellipse class="l" cx="312.3" cy="359" rx="3.4" ry="5.6" transform="rotate(-12 312.3 359)"/>
<ellipse class="l" cx="330.8" cy="382.8" rx="3.4" ry="5.4" transform="rotate(-12 330.8 382.8)"/>
<ellipse class="l" cx="330.3" cy="421.3" rx="3.4" ry="5.4" transform="rotate(-12 330.3 421.3)"/>
<path class="t" d="M311.1 354.1Q315.1 357.4 314.4 363.9M329.5 377.9Q333.6 381.1 332.8 387.7M329.2 416.4Q333.1 419.7 332.5 426.2"/>
</g>
<!-- 46_knob3 -->
<g><path class="w" d="M326.9 265.6L328.5 286.9Q340.8 295.9 355.6 285.2L356.4 265.6Z"/>
<path class="w" d="M310.5 245.9C310.6 248.2 309.3 256 311.3 259.8C313.4 263.7 317.9 266.8 322.8 268.9C327.7 270.9 334.8 272.4 340.8 272.1C346.8 271.9 353.9 269.9 358.9 267.2C363.8 264.5 368.3 259.8 370.3 255.7C372.4 251.6 371 244.8 371.1 242.6Z"/>
<path class="l" d="M315.4 250L315.4 263.6M319.5 253.3L319.5 266.4M329.3 257.7L329.3 270.2M340 259L340 272.1M351.5 258.2L351.5 270.8M362.1 252.8L362.1 265.6M367.9 247.5L367.9 259.3"/>
<path class="t" d="M311 249.2C313 250.7 317.8 256.2 322.8 258.2C327.8 260.2 334.8 261.2 340.8 261C346.8 260.8 353.8 259.4 358.9 257C363.9 254.7 369 248.4 371 246.7"/>
<ellipse class="w" cx="340.8" cy="241" rx="30.3" ry="16.7" transform="rotate(-4 340.8 241)"/>
<path class="l" d="M328.5 243.4L340.8 232.8L359.7 239.3L347.4 251.1Z"/>
<path class="l" d="M331.3 243L341.1 234.8L356.4 239.8L346.7 248.9ZM336.7 239.3L344.1 241.8L341.1 244.6M339.2 236.9L352.3 241.3M334.3 241L347.4 245.9M344.1 241.8L349.8 238.5" style="stroke-width:1.2"/>
</g>
<!-- 48_knob2 -->
<g><path class="w" d="M299.1 388.9L315.5 383.1Q325.3 388 327 401.1Q326.1 410.2 313.9 414.6L299.1 424.1Z"/>
<path class="w" d="M266.3 388.4C268.2 387.6 273.4 384.4 277.8 383.9C282.2 383.5 288.6 384.1 292.5 385.6C296.5 387.1 298.8 390.1 301.6 393C304.3 395.8 306.7 399.1 308.9 402.8C311.1 406.5 313.4 411.3 314.7 415.1C315.9 418.9 317 422.5 316.3 425.7C315.6 428.9 313.4 431.5 310.6 434.3C307.7 437 302.7 440.9 299.1 442.5C295.5 444 290.9 443.3 289.3 443.4L272.9 389.3Z"/>
<path class="l" d="M283.5 384.4L288.4 390.5M294.2 386.4L299.1 396.2M292.5 399.5L301.6 393M297.1 406.9L309.8 401.1M300.7 417.5L314.7 413M302.4 426.6L316.3 424.1M302.4 433.9L311.4 433.1M299.9 439.7L307.3 436.4M274.5 384.4L272 386.4M269.6 386.4L268 388"/>
<path class="t" d="M288.4 390.5C290.2 391.4 296.2 393.8 299.1 396.2C302 398.7 304.1 402 306 405.2C307.8 408.5 309.3 412.6 310.2 415.9C311.1 419.2 311.7 422 311.4 424.9C311 427.8 308.7 431.7 308.1 433.1"/>
<ellipse class="w" cx="281.9" cy="415.9" rx="19.8" ry="28.8" transform="rotate(-20 281.9 415.9)"/>
<path class="t" d="M267.6 392.2C268.1 391.8 269.4 390.4 270.5 389.7C271.5 389 272.6 388.5 273.8 388.1C274.9 387.7 276.1 387.5 277.4 387.4C278.6 387.4 279.9 387.5 281.2 387.7C282.5 388 283.8 388.4 285.1 388.9C286.4 389.5 287.7 390.2 289 391.1C290.2 391.9 291.4 392.9 292.6 394C293.7 395.1 294.9 396.4 295.9 397.7C296.9 399.1 297.9 400.5 298.8 402C299.6 403.5 300.4 405.1 301.1 406.8C301.8 408.4 302.4 410.1 302.9 411.8C303.3 413.5 303.7 415.3 303.9 417C304.1 418.7 304.3 420.4 304.3 422.1C304.2 423.7 304.1 425.4 303.9 427C303.6 428.5 303.3 430 302.8 431.4C302.3 432.8 301.3 434.7 301 435.4"/>
<path class="l" d="M269.6 403.6L273.2 402.8L290.1 411.8L289.6 430.7L286 431.5L274.5 426.6L269.6 417.5Z"/>
<path class="l" d="M271.6 405.2L288 413L288 429M271.6 409.3L288 417.5M272 411.8L272 419.2L277.8 422.1L277.8 413.9ZM281.9 416.7L281.9 424.9L286 426.6L286 418.9ZM273.2 420.8L286.8 427.4M274.5 406.9L288 414.3" style="stroke-width:1.1"/>
<circle cx="258.9" cy="402" r="1.6" fill="#222"/></g>
<!-- 50_lower -->
<g><path class="f" d="M343.5 490.5L364.5 474.9L403.9 470L403.9 519.2L435 500.3L466.1 483.1L466.1 519.2L351.4 584.8L343.5 568.4Z"/>
<path class="w" d="M525.2 384.6L547.4 397.7L547.4 400.2L548.7 400.3L553.9 405.1L553.9 428L540 436.2L531 409.2Z"/>
<path class="w" d="M508 376.4Q514.6 373.1 521.1 378Q524.4 381.3 525.2 384.9L516.2 383Z"/>
<path class="f" d="M434.1 384.4L443.1 380.3L480 402.5L511.1 385.2L511.1 418.9L462 448.4L433.3 439.3L404.6 428.7L380 418L380 415.6Z"/>
<path class="w" d="M466.4 357.2Q468 354.4 471.3 355.1L532 392.5Q536.9 395.4 539.3 401L539.3 444.9L535.6 449.5L534.4 446.6L534.4 412.1L499.2 416.7L469.7 399L469.7 362.1L466.4 358Z"/>
<path class="l" d="M466.4 357.7L470.5 362.1L520.5 390.8L532 397.4Q534.3 398.7 534.4 402.3L534.4 444.9M469.7 362.1L469.7 392.8"/>
<ellipse class="w" cx="467.5" cy="394.3" rx="2.1" ry="2.1"/>
<path class="l" d="M489.3 408L509 396.6L509.3 393.3L511.5 392.5L515.6 390"/>
<path class="l" d="M439.8 381L500 417.2"/>
<path class="l" d="M520.3 392L529.3 397.7M510.5 393.6L514.6 390.3"/>
<path class="w" d="M355.4 486.9L430 444.3L444.8 450.8L444.8 468.9L369.3 511.5L355.4 504.9Z"/>
<path class="l" d="M355.4 486.9L369.3 493.4L444.8 450.5M369.3 493.4L369.3 511.5M373 498L444.8 457.4M373 498L373 502.5L444.8 461.5M375.1 498.4L375.1 501.3"/>
<path class="w" d="M434.9 431.1L477.5 404.9L498.9 416.4L498.9 459L478.4 470.8L455.4 483.6L434.9 472.1Z"/>
<path class="l" d="M434.9 431.1L455.4 443L498.9 416.4M455.4 443L455.4 483.6"/>
<ellipse class="l" cx="461.5" cy="445.1" rx="3.9" ry="5.4" transform="rotate(18 461.5 445.1)"/>
<ellipse class="l" cx="493.1" cy="427" rx="3.9" ry="5.4" transform="rotate(18 493.1 427)"/>
<ellipse class="l" cx="461.1" cy="473.8" rx="3.9" ry="5.4" transform="rotate(18 461.1 473.8)"/>
<path class="t" d="M434.9 451.1L446.4 445.1M434.9 457.7L446.4 451.6M434.9 464.8L446.4 459M434.9 472.1L446.4 465.6M446.4 445.1L446.4 465.6"/>
<path class="l" d="M486.6 408.2L505.4 398.4"/>
<path class="l" d="M490 409.2L511.3 396.9L522.8 404.3L522.8 438.7L531 448.5L533.4 451.8L539.2 445.2L539.2 396.9"/>
<path class="l" d="M522.8 404.3L528.5 402.6L528.5 421L525.2 422M524.4 404.6L524.4 422.3M521.1 423.1L525.2 421.5L529.3 423.1L529.3 443.6L521.1 438.7ZM525.2 422L525.2 437L529.3 439M525.2 437L522 438.4"/>
<path class="l" d="M490 414.1L499 415.7L499 433M500.7 421L508.9 416.6L508.9 423.1L500.7 427.5ZM502.3 420.3L502.3 426.4M499.8 432.1L522.8 421M499 415.7L522.8 404.3"/>
<path class="l" d="M498.9 429.5L512 427Q515.2 432.8 515.2 438.5L530 447.9"/>
<path d="M475.6 452.1L481.1 450" stroke="#333" stroke-width="5.5" fill="none"/><path class="w" d="M479.2 455.7Q476.7 465.6 484.1 473Q491.5 473.8 493.6 466.4Q493.1 461.5 490.7 458.7Z"/>
<path class="t" d="M482.1 459.3Q480.8 465.6 485.7 469.7Q489.8 469.7 490.7 465.6"/>
<path class="w" d="M484.1 447.5L512 450Q516.9 452.5 515.6 456.6Q514.4 460.7 511.1 460.7L495.6 459.8Q493.1 459 492 456.6Z"/>
<path class="t" d="M494.8 452.1L511.1 453.3Q513.3 454.9 512 457.4"/>
<ellipse class="w" cx="484.9" cy="452.8" rx="5.2" ry="5.9"/>
<ellipse class="t" cx="486.1" cy="452.8" rx="3.6" ry="4.3"/>
<path class="l" d="M344.8 435.2L360.3 427L367.7 423L410.3 400L411.5 403.6L370.2 425.7"/>
<path class="l" d="M367.7 423L367.7 430.3L379.2 424.6L379.2 441M402.1 411.8L402.1 425.4M402.1 411.8L411.1 416.4L411.1 420"/>
<path class="w" d="M337.4 441L347.2 435.2L360.3 427.9Q359.5 438.5 371 445.1Q384.1 448.4 395.6 443Q401.3 438.5 400.2 429.5L402.1 424.6L413.6 419.7L425.1 425.4L425.1 449.2L405.7 460.7Q404.6 465.6 393.9 470.2Q379.2 473.8 365.2 468.9L337.4 452.5Z"/>
<path class="l" d="M405.7 439L405.7 460.7M405.7 439L425.1 427.5M402.1 436.9L405.7 439M360.3 428.7Q362.8 435.2 371 439.3Q384.1 442.3 394.3 437.7Q398.9 434.8 399.7 429.8M362.8 437.7Q374.3 445.1 384.1 444.6Q394.8 443.4 399.7 436.9M379.2 441Q384.1 443 392.3 440.2M392.3 435.2Q394.8 432 398.9 432.8M392.3 435.2L392.3 441M392.3 435.2Q395.6 436.9 398.9 432.8M347.2 435.2Q354.6 436.9 361.1 431.1"/>
<ellipse class="l" cx="415.2" cy="441.8" rx="4.3" ry="6.2" transform="rotate(18 415.2 441.8)"/>
</g>
<!-- 52_conn7 -->
<g><path class="l" d="M342.4 491.3L342.4 548.7L335 552M347.3 487.2L347.3 528.2M335 548.7L347.3 552.8L349.8 550.3M403 519.2L466.1 481.8"/>
<ellipse class="l" cx="354.3" cy="513" rx="2.3" ry="3.6" transform="rotate(25 354.3 513)"/>
<path class="w" d="M349.8 526.1L355.5 522.8L394 500.3Q399.8 499.2 402.2 505.2L403 511L403 519.2L370.2 541.3L356.3 548.4L351.4 550.3Q348.1 548.7 348.1 545.4L348.1 530.7Q348.1 527.4 349.8 526.1Z"/>
<path class="l" d="M356.3 524.9L356.3 548M349.8 526.6L356.3 524.9L394.8 502.8Q398.1 502 400.2 504.4"/>
<ellipse class="l" cx="359.6" cy="538" rx="2.6" ry="4.1" transform="rotate(25 359.6 538)"/>
<ellipse class="l" cx="398.1" cy="515.9" rx="2.6" ry="4.1" transform="rotate(25 398.1 515.9)"/>
<path class="w" d="M378.4 515.1L400.6 525.4L407.1 538.9L389.9 551.1L374.3 544.6Q368.6 540.5 368.6 530.7Q369.4 519.2 378.4 515.1Z"/>
<ellipse class="w" cx="396" cy="538.5" rx="9.5" ry="13.4" transform="rotate(-25 396 538.5)"/>
<ellipse class="l" cx="397" cy="538.9" rx="8.2" ry="12.1" transform="rotate(-25 397 538.9)"/>
<path class="w" d="M399.8 531L415.3 539.7L420.2 547L409.6 554.4L394 546.2Q391.6 538.9 399.8 531Z"/>
<path class="l" d="M399.8 531C398.9 531.7 395.5 533.7 394.3 535.6C393.2 537.4 392.7 540.3 392.7 542.1C392.7 543.9 394.1 545.7 394.3 546.4"/>
<ellipse class="w" cx="414.5" cy="547.4" rx="5.2" ry="7.5" transform="rotate(-25 414.5 547.4)"/>
<ellipse class="l" cx="414.8" cy="547.5" rx="3.9" ry="5.9" transform="rotate(-25 414.8 547.5)"/>
<ellipse class="l" cx="415.2" cy="547.7" rx="2.5" ry="3.9" transform="rotate(-25 415.2 547.7)"/>
</g>
<!-- 90_labels -->
<g class="ld">
<path d="M215.5 598.4H232.8L273.5 527"/>
<path d="M149.3 552.3H167.6L346.4 362.7"/>
<path d="M589.9 178H542.9L391 215.5"/>
<path d="M599.3 343.1H559.6L523.6 379.5"/>
<path d="M587.5 72.3H543L400.5 119.8"/>
<path d="M158.9 46H178.5L206.4 94.4"/>
<path d="M510.9 585.1H478.5L420.3 551.1"/>
<path d="M19.1 233.3H44.3L92.1 258.9"/>
<path d="M18.7 392.9H37.4L97.4 339.3"/>
</g>
<g class="num" text-anchor="middle">
<text x="220.7" y="594" transform="translate(220.7 0) scale(.82 1) translate(-220.7 0)">1</text>
<text x="155.5" y="545.7" transform="translate(155.5 0) scale(.82 1) translate(-155.5 0)">2</text>
<text x="569.3" y="168.4" transform="translate(569.3 0) scale(.82 1) translate(-569.3 0)">3</text>
<text x="579.4" y="331.9" transform="translate(579.4 0) scale(.82 1) translate(-579.4 0)">4</text>
<text x="569.1" y="62.8" transform="translate(569.1 0) scale(.82 1) translate(-569.1 0)">5</text>
<text x="167.9" y="37.5" transform="translate(167.9 0) scale(.82 1) translate(-167.9 0)">6</text>
<text x="494.5" y="578.1" transform="translate(494.5 0) scale(.82 1) translate(-494.5 0)">7</text>
<text x="27.5" y="226.4" transform="translate(27.5 0) scale(.82 1) translate(-27.5 0)">8</text>
<text x="24.8" y="386" transform="translate(24.8 0) scale(.82 1) translate(-24.8 0)">9</text>
</g>
</svg>
</body></html>
